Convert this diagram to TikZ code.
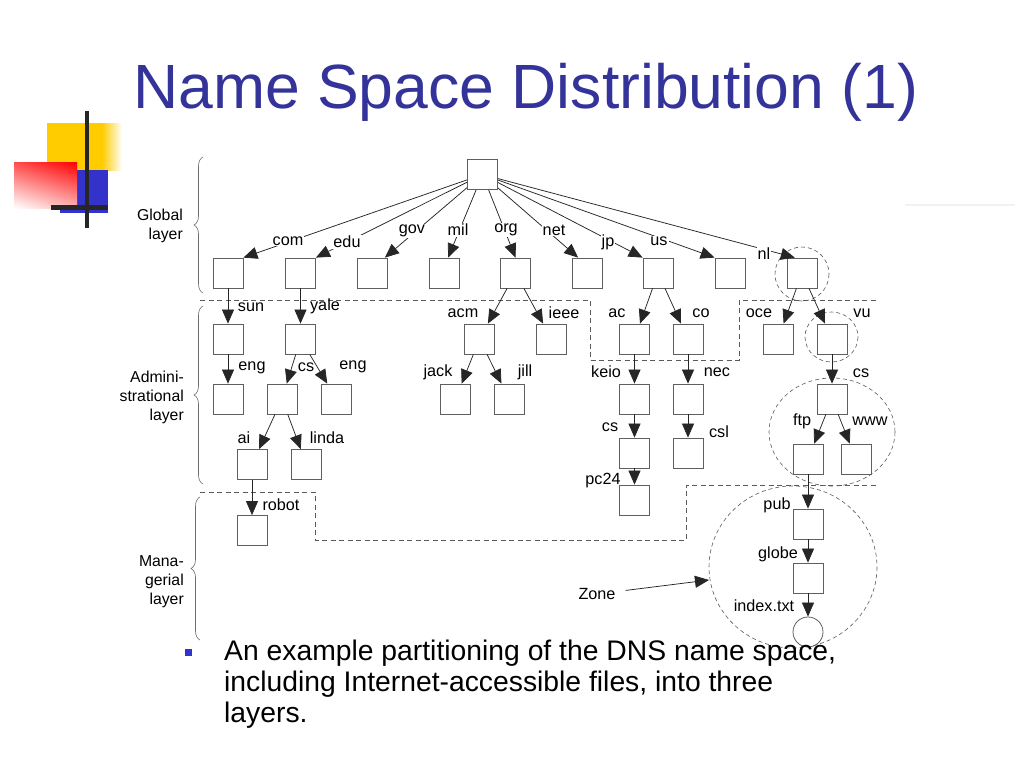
\documentclass[tikz,border=0pt]{standalone}
\usepackage{fontspec}
\setmainfont{Liberation Sans}
\usetikzlibrary{arrows.meta,decorations.pathreplacing,shadings}
\definecolor{titleblue}{RGB}{51,51,153}
\definecolor{bulletblue}{RGB}{51,51,204}
\definecolor{decoyellow}{RGB}{255,204,0}
\definecolor{boxgray}{RGB}{95,95,95}
\definecolor{dashgray}{RGB}{90,90,90}
\definecolor{bracegray}{RGB}{110,110,110}
\begin{document}
\begin{tikzpicture}[x=1pt,y=-1pt]
\tikzset{
 box/.style={draw=boxgray, line width=0.8pt, minimum size=30pt, inner sep=0pt},
 lbl/.style={font=\fontsize{16.2}{18}\selectfont, inner sep=1pt},
 lblw/.style={lbl, fill=white},
 arr/.style={draw=black!85, line width=0.75pt, -{Triangle[length=14pt,width=12pt]}},
 bound/.style={draw=dashgray, line width=0.8pt, dash pattern=on 5pt off 3.5pt},
 zonec/.style={draw=dashgray, line width=0.6pt, dash pattern=on 4pt off 3pt},
 brc/.style={draw=bracegray, line width=0.6pt, decorate, decoration={brace, amplitude=9pt}},
 layertxt/.style={font=\fontsize{15.8}{19}\selectfont, align=right, anchor=east, inner sep=0pt},
 bodytxt/.style={font=\fontsize{28.3}{31}\selectfont, anchor=base west, inner sep=0pt}
}
\useasboundingbox (0,0) rectangle (1024,768);
\fill[white] (0,0) rectangle (1024,768);

% slide decoration
\fill[decoyellow] (47,123) rectangle (102,170);
\shade[left color=decoyellow, right color=white] (102,123) rectangle (122,170);
\fill[bulletblue] (60,170) rectangle (108,213);
\shade[upper left=red!70, upper right=red, lower left=white, lower right=red!30] (14,162) rectangle (77,208);
\fill[black!85] (85,111) rectangle (89,228);
\fill[black!85] (51,205) rectangle (108,210);
\draw[gray!10, line width=2pt] (905,205) -- (1015,205);

% title
\node[anchor=base west, inner sep=0pt, font=\fontsize{62.5}{70}\selectfont, text=titleblue] (title) at (133,108) {Name Space Distribution (1)};

% layer boundaries
\draw[bound] (200,300) -- (590,300) -- (590,360) -- (739,360) -- (739,300) -- (878,300);
\draw[bound] (200,492) -- (315,492) -- (315,540) -- (686,540) -- (686,485) -- (878,485);

% zones
\draw[zonec] (802,274) circle (27);
\draw[zonec] (831.5,337) ellipse [x radius=26.5, y radius=25];
\draw[zonec] (832,432) ellipse [x radius=63, y radius=54];
\draw[zonec] (793,567) ellipse [x radius=84, y radius=81];

% braces and layer names
\draw[brc] (203,293) -- (203,157);
\draw[brc] (203,484) -- (203,306);
\draw[brc] (200,640) -- (200,497);
\node[layertxt] (lglobal) at (183,226) {Global\\layer};
\node[layertxt] (ladmin) at (184,397) {Admini-\\strational\\layer};
\node[layertxt] (lmanag) at (184,582) {Mana-\\gerial\\layer};

% boxes
\node[box] (root) at (482.5,174.5) {};
\node[box] (com) at (228,273) {};
\node[box] (edu) at (300.5,273) {};
\node[box] (gov) at (372,273) {};
\node[box] (mil) at (444,273) {};
\node[box] (org) at (515.5,273) {};
\node[box] (net) at (587,273) {};
\node[box] (jp) at (658,273) {};
\node[box] (us) at (730,273) {};
\node[box] (nl) at (802,273) {};

\node[box] (sun) at (228,339) {};
\node[box] (yale) at (300.5,339) {};
\node[box] (eng1) at (228,399) {};
\node[box] (cs1) at (282,399) {};
\node[box] (eng2) at (336.5,399) {};
\node[box] (ai) at (252,464.5) {};
\node[box] (linda) at (306.5,464.5) {};
\node[box] (robot) at (252,530.5) {};

\node[box] (acm) at (479.5,339) {};
\node[box] (ieee) at (551.5,339) {};
\node[box] (jack) at (455.5,399) {};
\node[box] (jill) at (509,399) {};

\node[box] (ac) at (634.5,339) {};
\node[box] (co) at (688,339) {};
\node[box] (keio) at (634.5,399) {};
\node[box] (nec) at (688,399) {};
\node[box] (cs2) at (634.5,453) {};
\node[box] (csl) at (688,453) {};
\node[box] (pc24) at (634.5,500) {};

\node[box] (oce) at (778,339) {};
\node[box] (vu) at (832,339) {};
\node[box] (cs3) at (832,399) {};
\node[box] (ftp) at (808,459) {};
\node[box] (www) at (856,459) {};
\node[box] (pub) at (808,524) {};
\node[box] (globe) at (808,578) {};
\node[draw=boxgray, line width=0.8pt, circle, minimum size=30pt, inner sep=0pt] (idx) at (808,632) {};

% edges from root
\draw[arr] (root) -- (com.north east);
\draw[arr] (root) -- (edu.north east);
\draw[arr] (root) -- (gov.50);
\draw[arr] (root) -- (mil.75);
\draw[arr] (root) -- (org.north);
\draw[arr] (root) -- (net.120);
\draw[arr] (root) -- (jp.north west);
\draw[arr] (root) -- (us.north west);
\draw[arr] (root) -- (nl.115);

\node[lblw] (tcom) at (288,241) {com};
\node[lblw] (tedu) at (347,242) {edu};
\node[lblw] (tgov) at (412,231) {gov};
\node[lblw] (tmil) at (458,230) {mil};
\node[lblw] (torg) at (506,230) {org};
\node[lblw] (tnet) at (554,230) {net};
\node[lblw] (tjp) at (608,242) {jp};
\node[lblw] (tus) at (659,241) {us};
\node[lblw] (tnl) at (764,254) {nl};

% other edges
\draw[arr] (com) -- (sun);
\draw[arr] (edu) -- (yale);
\draw[arr] (sun) -- (eng1);
\draw[arr] (yale) -- (cs1);
\draw[arr] (yale) -- (eng2);
\draw[arr] (cs1) -- (ai);
\draw[arr] (cs1) -- (linda);
\draw[arr] (ai) -- (robot);
\draw[arr] (org) -- (acm);
\draw[arr] (org) -- (ieee);
\draw[arr] (acm) -- (jack);
\draw[arr] (acm) -- (jill);
\draw[arr] (jp) -- (ac);
\draw[arr] (jp) -- (co);
\draw[arr] (ac) -- (keio);
\draw[arr] (co) -- (nec);
\draw[arr] (keio) -- (cs2);
\draw[arr] (nec) -- (csl);
\draw[arr] (cs2) -- (pc24);
\draw[arr] (nl) -- (oce);
\draw[arr] (nl) -- (vu);
\draw[arr] (vu) -- (cs3);
\draw[arr] (cs3) -- (ftp);
\draw[arr] (cs3) -- (www);
\draw[arr] (ftp) -- (pub);
\draw[arr] (pub) -- (globe);
\draw[arr] (globe) -- (idx);

\node[lbl] (tsun) at (251,307) {sun};
\node[lbl] (tyale) at (325,306) {yale};
\node[lbl] (teng1) at (252,368) {eng};
\node[lbl] (tcs1) at (306,367) {cs};
\node[lbl] (teng2) at (353,367) {eng};
\node[lbl] (tai) at (244,438) {ai};
\node[lbl] (tlinda) at (327,438) {linda};
\node[lbl] (trobot) at (281,505) {robot};
\node[lbl] (tacm) at (463,313) {acm};
\node[lbl] (tieee) at (564,313) {ieee};
\node[lbl] (tjack) at (438,372) {jack};
\node[lbl] (tjill) at (525,372) {jill};
\node[lbl] (tac) at (617,313) {ac};
\node[lbl] (tco) at (701,313) {co};
\node[lbl] (toce) at (759,313) {oce};
\node[lbl] (tvu) at (862,313) {vu};
\node[lbl] (tkeio) at (606,372) {keio};
\node[lbl] (tnec) at (717,372) {nec};
\node[lbl] (tcs2) at (610,427) {cs};
\node[lbl] (tcsl) at (719,432) {csl};
\node[lbl] (tpc24) at (603,481) {pc24};
\node[lbl] (tcs3) at (861,373) {cs};
\node[lbl] (tftp) at (802,421) {ftp};
\node[lbl] (twww) at (870,421) {www};
\node[lbl] (tpub) at (777,505) {pub};
\node[lbl] (tglobe) at (778,554) {globe};
\node[lbl] (tidx) at (764,606) {index.txt};

% zone pointer
\node[lbl] (tzone) at (597,594) {Zone};
\coordinate (ztip) at (709,580);
\draw[arr, shorten <=9pt] (tzone) -- (ztip);

% bullet text
\fill[bulletblue] (185,649) rectangle (192,656);
\node[bodytxt] (b1) at (224,660) {An example partitioning of the DNS name space,};
\node[bodytxt] (b2) at (224,691) {including Internet-accessible files, into three};
\node[bodytxt] (b3) at (224,722) {layers.};
\end{tikzpicture}
\end{document}
